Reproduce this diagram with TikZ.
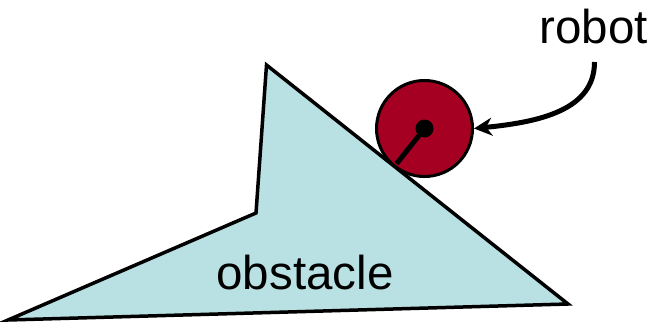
\documentclass[tikz,border=0pt]{standalone}
\usepackage{fontspec}
\setmainfont{Liberation Sans}
\usetikzlibrary{arrows.meta,calc}
\definecolor{obstfill}{HTML}{B9E0E3}
\definecolor{robotred}{HTML}{A50021}
\begin{document}
\begin{tikzpicture}[x=1pt,y=-1pt,
  label/.style={font=\fontsize{47.5}{52}\selectfont, inner sep=0pt, anchor=base},
  outline/.style={draw=black, line width=3.5pt, line join=miter}]
\useasboundingbox (0,0) rectangle (652,324);
% obstacle
\coordinate (ta) at (266.5,65);
\coordinate (tb) at (568,304);
\coordinate (tc) at (8,320);
\coordinate (td) at (256,213);
\fill[obstfill] (ta) -- (tb) -- (tc) -- (td) -- cycle;
\draw[outline] (ta) -- (tb) -- (tc) -- (td) -- cycle;
% robot
\node[circle, minimum size=96pt, inner sep=0pt, fill=robotred, draw=black, line width=3pt] (rob) at (424.5,128.5) {};
\coordinate (contact) at (394.5,166.3);
\draw[line width=5pt] (rob.center) -- ($(rob.center)!0.93!(contact)$);
\node[circle, fill=black, minimum size=18pt, inner sep=0pt] (hub) at (rob.center) {};
% labels
\node[label] (robtxt) at (593.5,43) {robot};
\node[label] (obstxt) at (305,289) {obstacle};
\coordinate (arrstart) at (594.5,62);
\draw[line width=5pt, -{Stealth[length=18pt,width=18pt]}] (arrstart) .. controls (594.5,110) and (540,122) .. (rob.east);
\end{tikzpicture}
\end{document}
